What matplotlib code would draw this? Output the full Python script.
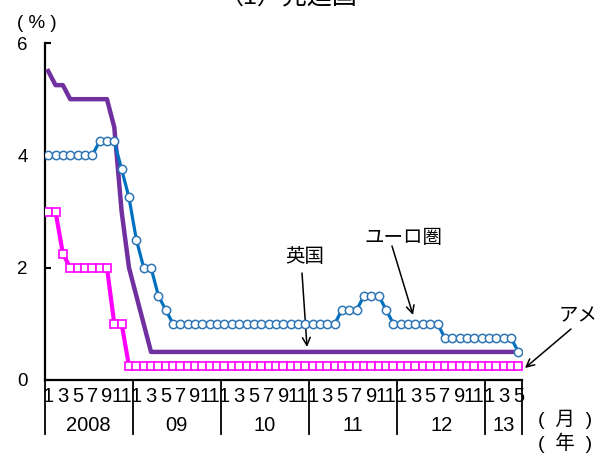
import matplotlib
matplotlib.use('Agg')
import matplotlib.pyplot as plt
import matplotlib.transforms as mtransforms

plt.rcParams['font.family'] = ['Liberation Sans', 'Noto Sans CJK JP', 'DejaVu Sans']

# policy rates, monthly, Jan 2008 - May 2013 (%)
euro = [4.0, 4.0, 4.0, 4.0, 4.0, 4.0, 4.0, 4.25, 4.25, 4.25, 3.75, 3.25,
        2.5, 2.0, 2.0, 1.5, 1.25, 1.0, 1.0, 1.0, 1.0, 1.0, 1.0, 1.0,
        1.0, 1.0, 1.0, 1.0, 1.0, 1.0, 1.0, 1.0, 1.0, 1.0, 1.0, 1.0,
        1.0, 1.0, 1.0, 1.0, 1.25, 1.25, 1.25, 1.5, 1.5, 1.5, 1.25, 1.0,
        1.0, 1.0, 1.0, 1.0, 1.0, 1.0, 0.75, 0.75, 0.75, 0.75, 0.75, 0.75,
        0.75, 0.75, 0.75, 0.75, 0.5]
uk = [5.5, 5.25, 5.25, 5.0, 5.0, 5.0, 5.0, 5.0, 5.0, 4.5, 3.0, 2.0,
      1.5, 1.0, 0.5, 0.5, 0.5, 0.5, 0.5, 0.5, 0.5, 0.5, 0.5, 0.5,
      0.5, 0.5, 0.5, 0.5, 0.5, 0.5, 0.5, 0.5, 0.5, 0.5, 0.5, 0.5,
      0.5, 0.5, 0.5, 0.5, 0.5, 0.5, 0.5, 0.5, 0.5, 0.5, 0.5, 0.5,
      0.5, 0.5, 0.5, 0.5, 0.5, 0.5, 0.5, 0.5, 0.5, 0.5, 0.5, 0.5,
      0.5, 0.5, 0.5, 0.5, 0.5]
us = [3.0, 3.0, 2.25, 2.0, 2.0, 2.0, 2.0, 2.0, 2.0, 1.0, 1.0, 0.25,
      0.25, 0.25, 0.25, 0.25, 0.25, 0.25, 0.25, 0.25, 0.25, 0.25, 0.25, 0.25,
      0.25, 0.25, 0.25, 0.25, 0.25, 0.25, 0.25, 0.25, 0.25, 0.25, 0.25, 0.25,
      0.25, 0.25, 0.25, 0.25, 0.25, 0.25, 0.25, 0.25, 0.25, 0.25, 0.25, 0.25,
      0.25, 0.25, 0.25, 0.25, 0.25, 0.25, 0.25, 0.25, 0.25, 0.25, 0.25, 0.25,
      0.25, 0.25, 0.25, 0.25, 0.25]

years = ['2008', '09', '10', '11', '12', '13']
month_labels = ['1', '3', '5', '7', '9', '11']
yticks = [0, 2, 4, 6]

x = list(range(len(euro)))
W, H = 596, 454


def fp(px, py):
    # figure pixel position measured from top-left
    return (px, H - py)


fig = plt.figure(figsize=(W / 100, H / 100), dpi=100)
ax = fig.add_axes([44.5 / W, 74 / H, 477.5 / W, 337 / H])

ax.plot(x, us, color='#FF00FF', lw=3, marker='s', ms=5.8, mfc='white',
        mec='#FF00FF', mew=1.2, zorder=3)
ax.plot(x, uk, color='#7030A0', lw=3.2, solid_joinstyle='round', zorder=4)
ax.plot(x, euro, color='#0070C0', lw=2.3, marker='o', ms=6, mfc='white',
        mec='#2E75B6', mew=1.1, zorder=5)

ax.set_xlim(-0.5, len(euro) - 0.5)
ax.set_ylim(0, 6)
ax.set_yticks(yticks)
ax.tick_params(axis='y', direction='in', length=4.5, width=1.5, pad=12, labelsize=13.5)
ax.set_xticks([])
for s in ['top', 'right']:
    ax.spines[s].set_visible(False)
for s in ['left', 'bottom']:
    ax.spines[s].set_linewidth(1.6)

# month / year labels under the axis
trans = mtransforms.blended_transform_factory(ax.transData, ax.transAxes)
n = len(euro)
for i, yr in enumerate(years):
    start = i * 12
    end = min(start + 12, n)
    for j, m in enumerate(month_labels):
        idx = start + j * 2
        if idx < n:
            ax.text(idx, -0.05, m, transform=trans, ha='center', va='center',
                    fontsize=14.5)
    ax.text((start + end - 1) / 2, -0.134, yr, transform=trans, ha='center',
            va='center', fontsize=14.5)
    ax.plot([start - 0.5, start - 0.5], [0, -0.16], transform=trans,
            color='black', lw=1.3, clip_on=False)
ax.plot([n - 0.5, n - 0.5], [0, -0.16], transform=trans, color='black',
        lw=1.3, clip_on=False)

fig.text(*fp(565, 419), '(  月  )', fontsize=14, ha='center', va='center',
         transform=None)
fig.text(*fp(565, 443), '(  年  )', fontsize=14, ha='center', va='center',
         transform=None)
fig.text(*fp(37, 24), '( % )', fontsize=13.5, ha='center', va='center',
         transform=None)
fig.text(*fp(288, 3), '（1）先進国', fontsize=18, ha='center', va='baseline',
         transform=None)

arrow = dict(arrowstyle='->', color='black', lw=1.1, shrinkA=0, shrinkB=0,
             mutation_scale=14)
ax.annotate('', xy=fp(307, 347), xycoords='figure pixels',
            xytext=fp(302, 273), textcoords='figure pixels', arrowprops=arrow)
fig.text(*fp(305, 257), '英国', fontsize=14, ha='center', va='center',
         transform=None)
ax.annotate('', xy=fp(413, 315), xycoords='figure pixels',
            xytext=fp(392, 246), textcoords='figure pixels', arrowprops=arrow)
fig.text(*fp(403, 238), 'ユーロ圏', fontsize=14, ha='center', va='center',
         transform=None)
ax.annotate('', xy=fp(525, 368), xycoords='figure pixels',
            xytext=fp(571, 329), textcoords='figure pixels', arrowprops=arrow)
fig.text(*fp(559, 316), 'アメリカ', fontsize=14, ha='left', va='center',
         transform=None)

fig.savefig('out.png', dpi=100)
